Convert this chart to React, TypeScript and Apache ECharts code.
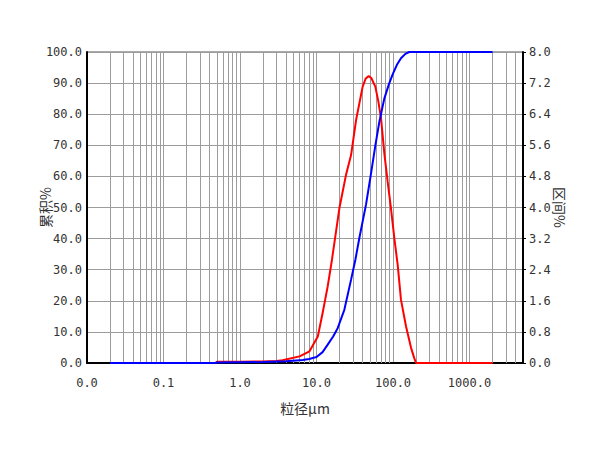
import React, { useEffect, useRef } from "react";
import * as echarts from "echarts";

// cumulative % (left axis), [size µm, value]
const cumSizes = [0.02, 0.48, 0.5, 1, 2, 4, 6.6, 8, 10, 12, 14, 16.5, 18.9, 23.1, 28.3, 32.2, 36.3, 44.4, 51.6, 58.8, 66.2, 76.9, 88, 98.9, 112, 127, 145, 163, 2000];
const cumValues = [0, 0, 0.2, 0.25, 0.3, 0.6, 1.0, 1.3, 1.9, 3.5, 5.9, 8.5, 11.2, 17.1, 26.8, 33.2, 40.2, 51.0, 61.0, 70.0, 77.5, 85.0, 89.5, 92.8, 95.8, 98.0, 99.4, 100, 100];

// interval % (right axis)
const diffSizes = [0.48, 0.5, 1, 2, 3, 3.6, 6, 8.1, 10.4, 12, 14, 15.9, 19.9, 24.3, 28.3, 32.9, 40.1, 44, 48, 52, 58.7, 64, 69.7, 76.9, 85, 94, 104, 115, 127, 148, 172, 190, 200, 2000];
const diffValues = [0, 0.03, 0.03, 0.04, 0.05, 0.07, 0.17, 0.3, 0.68, 1.28, 1.97, 2.65, 3.98, 4.84, 5.35, 6.25, 7.11, 7.32, 7.38, 7.33, 7.11, 6.75, 6.3, 5.4, 4.67, 3.98, 3.21, 2.53, 1.63, 0.94, 0.39, 0.12, 0, 0];

const xMin = 0.01;
const xMax = 5000;
const decades = [0.01, 0.1, 1, 10, 100, 1000];
const minorSteps = [2, 3, 4, 5, 6, 7, 8, 9];

const leftTitle = "累积%";
const rightTitle = "区间%";
const xTitle = "粒径μm";

const numFont = '"DejaVu Sans Mono", monospace';
const cjkFont = '"Noto Sans CJK SC", sans-serif';

export default function App() {
  const ref = useRef<HTMLDivElement>(null);
  useEffect(() => {
    if (!ref.current) return;
    const chart = echarts.init(ref.current, undefined, { renderer: "svg" });
    const minorLines: any[] = [];
    decades.forEach((d) => {
      minorSteps.forEach((m) => {
        const v = parseFloat((d * m).toPrecision(6));
        if (v < xMax) minorLines.push({ xAxis: v });
      });
    });
    const gridColor = "#9c9c9c";
    chart.setOption({
      animation: false,
      backgroundColor: "#ffffff",
      grid: {
        left: 87,
        right: 77,
        top: 52,
        bottom: 87,
        show: true,
        borderColor: "#555",
        borderWidth: 1,
      },
      xAxis: {
        type: "log",
        logBase: 10,
        min: xMin,
        max: xMax,
        name: xTitle,
        nameLocation: "middle",
        nameGap: 38,
        nameMoveOverlap: false,
        nameTextStyle: { fontFamily: cjkFont, fontSize: 14, color: "#333" },
        axisLine: { show: true, lineStyle: { color: "#000", width: 2 } },
        axisTick: { show: false },
        splitLine: { show: true, lineStyle: { color: gridColor, width: 1 } },
        axisLabel: {
          showMaxLabel: false,
          margin: 14,
          fontFamily: numFont,
          fontSize: 12,
          color: "#333",
          formatter: (v: number) => v.toFixed(1),
        },
      },
      yAxis: [
        {
          type: "value",
          min: 0,
          max: 100,
          interval: 10,
          position: "left",
          name: leftTitle,
          nameLocation: "middle",
          nameRotate: 90,
          nameGap: 35,
          nameMoveOverlap: false,
          nameTextStyle: { fontFamily: cjkFont, fontSize: 14, color: "#333" },
          axisLine: { show: true, lineStyle: { color: "#000", width: 2 } },
          axisTick: { show: false },
          splitLine: { show: true, lineStyle: { color: gridColor, width: 1 } },
          axisLabel: {
            margin: 5,
            fontFamily: numFont,
            fontSize: 12,
            color: "#333",
            formatter: (v: number) => v.toFixed(1),
          },
        },
        {
          type: "value",
          min: 0,
          max: 8,
          interval: 0.8,
          position: "right",
          name: rightTitle,
          nameLocation: "middle",
          nameRotate: -90,
          nameGap: 30,
          nameMoveOverlap: false,
          nameTextStyle: { fontFamily: cjkFont, fontSize: 14, color: "#333" },
          axisLine: { show: true, lineStyle: { color: "#000", width: 2 } },
          axisTick: { show: true, length: 3, lineStyle: { color: "#000" } },
          splitLine: { show: false },
          axisLabel: {
            margin: 6,
            fontFamily: numFont,
            fontSize: 12,
            color: "#333",
            formatter: (v: number) => v.toFixed(1),
          },
        },
      ],
      series: [
        {
          type: "line",
          name: "grid",
          data: [],
          silent: true,
          markLine: {
            silent: true,
            z: 1,
            symbol: ["none", "none"],
            label: { show: false },
            lineStyle: { type: "solid", color: gridColor, width: 1 },
            data: minorLines,
          },
        },
        {
          type: "line",
          name: rightTitle,
          yAxisIndex: 1,
          showSymbol: false,
          symbol: "none",
          lineStyle: { color: "#ff0000", width: 2 },
          itemStyle: { color: "#ff0000" },
          data: diffSizes.map((s, i) => [s, diffValues[i]]),
          z: 3,
        },
        {
          type: "line",
          name: leftTitle,
          yAxisIndex: 0,
          showSymbol: false,
          symbol: "none",
          lineStyle: { color: "#0000ff", width: 2 },
          itemStyle: { color: "#0000ff" },
          data: cumSizes.map((s, i) => [s, cumValues[i]]),
          z: 4,
        },
      ],
    });
    return () => chart.dispose();
  }, []);
  return (
    <div
      ref={ref}
      style={{ position: "fixed", left: 0, top: 0, width: 600, height: 450 }}
    />
  );
}
